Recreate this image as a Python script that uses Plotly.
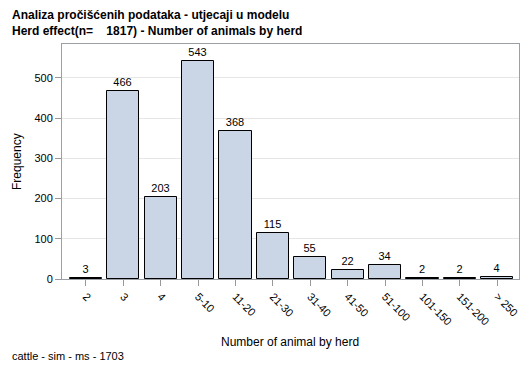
import plotly.graph_objects as go

categories = ["2", "3", "4", "5-10", "11-20", "21-30", "31-40", "41-50", "51-100", "101-150", "151-200", "> 250"]
frequency = [3, 466, 203, 543, 368, 115, 55, 22, 34, 2, 2, 4]
y_ticks = [0, 100, 200, 300, 400, 500]

FONT = "Liberation Sans, Arial, sans-serif"
OFF = 8  # default page body margin
L, T, R, B = 62, 44, 519, 279  # plot area in page px
PW, PH = R - L, B - T

fig = go.Figure()
fig.add_trace(go.Bar(
    x=list(range(len(categories))),
    y=frequency,
    width=0.86,
    marker=dict(color="#CAD5E5", line=dict(color="black", width=1)),
    text=[str(v) for v in frequency],
    textposition="outside",
    textfont=dict(family=FONT, size=11, color="black"),
    cliponaxis=False,
))

fig.update_layout(
    width=529 - OFF, height=378 - OFF,
    margin=dict(l=L - OFF, r=529 - R, t=T - OFF, b=378 - B, autoexpand=False),
    paper_bgcolor="white", plot_bgcolor="white",
    showlegend=False,
    font=dict(family=FONT, size=11, color="black"),
    bargap=0,
)

def ann(text, xpx, ypx, size, xanchor="left", angle=0):
    fig.add_annotation(text=text, xref="paper", yref="paper",
                       x=(xpx - L) / PW, y=1 - (ypx - T) / PH,
                       xanchor=xanchor, yanchor="middle", showarrow=False, textangle=angle,
                       font=dict(family=FONT, size=size, color="black"))

ann("<b>Analiza pročišćenih podataka - utjecaji u modelu</b>", 10, 15, 12)
ann("<b>Herd effect(n=    1817) - Number of animals by herd</b>", 10, 31, 12)
ann("cattle - sim - ms - 1703", 10, 356, 11)
ann("Number of animal by herd", 290, 342, 12, xanchor="center")
ann("Frequency", 17, 162, 12, xanchor="center", angle=-90)

fig.update_xaxes(
    range=[-0.64, 11.58], automargin=False,
    tickmode="array", tickvals=list(range(len(categories))), ticktext=categories,
    tickangle=45, ticks="outside", ticklen=6, tickcolor="#999999",
    showline=True, linecolor="#9aa0a6", linewidth=1, mirror=True,
    showgrid=False, zeroline=False,
    tickfont=dict(family=FONT, size=11, color="black"),
)
fig.update_yaxes(
    range=[0, 584], automargin=False,
    tickmode="array", tickvals=y_ticks,
    ticks="outside", ticklen=6, tickcolor="#999999",
    showline=True, linecolor="#9aa0a6", linewidth=1, mirror=True,
    showgrid=True, gridcolor="#e6e6e6", zeroline=False,
    tickfont=dict(family=FONT, size=11, color="black"),
)

fig.write_html("out.html")
